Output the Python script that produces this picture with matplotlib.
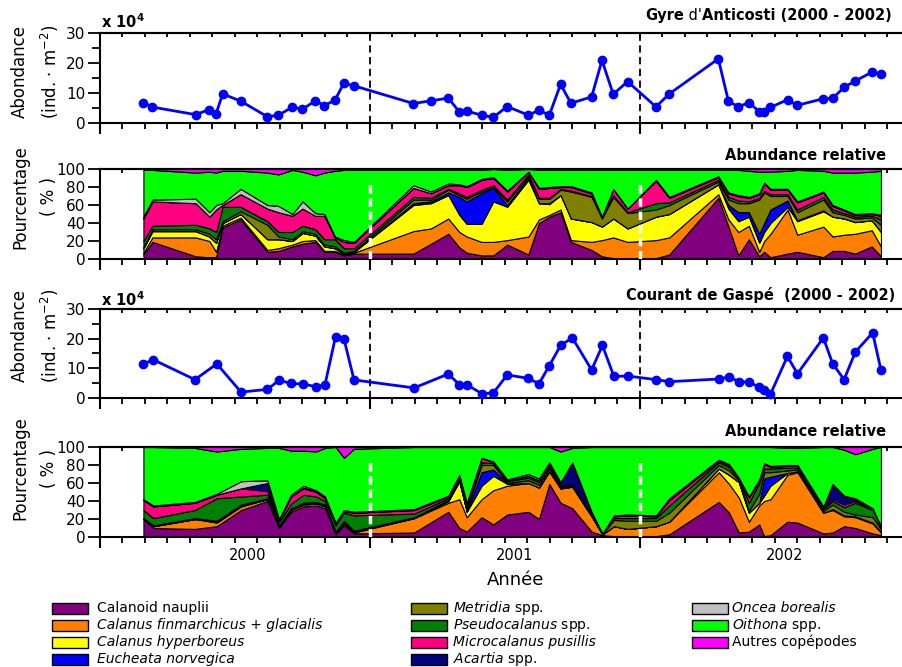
import numpy as np
import matplotlib
matplotlib.use("Agg")
import matplotlib.pyplot as plt
from matplotlib.patches import Rectangle
from matplotlib.ticker import NullFormatter, MultipleLocator

# sampling dates, in months since 1 Jan 2000
ant_months = [1.93, 2.33, 4.25, 4.86, 5.16, 5.45, 6.25, 7.44, 7.93, 8.55, 9.0, 9.57, 9.97, 10.44,
              10.84, 11.29, 13.93, 14.71, 15.48, 15.97, 16.3, 16.96, 17.48, 18.1, 19.04, 19.51,
              19.97, 20.47, 20.93, 21.85, 22.31, 22.81, 23.45, 24.71, 25.3, 27.48, 27.93, 28.37,
              28.84, 29.3, 29.52, 29.8, 30.56, 30.99, 32.15, 32.56, 33.07, 33.56, 34.3, 34.71]
# abundance, x 10^4 ind. m-2
ant_abund = [6.8, 5.3, 2.8, 4.5, 3.1, 9.7, 7.3, 2.1, 2.6, 5.3, 4.6, 7.4, 5.8, 7.6, 13.3, 12.4,
             6.5, 7.4, 8.3, 3.7, 4.0, 2.6, 1.9, 5.5, 2.6, 4.3, 2.6, 12.9, 6.6, 8.7, 20.9, 9.6,
             13.8, 5.4, 9.7, 21.4, 7.3, 5.4, 6.8, 3.8, 3.6, 5.2, 7.8, 5.9, 8.1, 8.2, 11.9, 14.0,
             16.9, 16.4]

gas_months = [1.93, 2.37, 4.22, 5.19, 6.27, 7.44, 7.96, 8.49, 9.04, 9.6, 10.0, 10.47, 10.84,
              11.29, 13.96, 15.48, 15.97, 16.3, 16.96, 17.48, 18.1, 19.04, 19.51, 19.97, 20.47,
              20.99, 21.85, 22.33, 22.84, 23.45, 24.71, 25.3, 27.5, 27.96, 28.39, 28.84, 29.3,
              29.52, 29.8, 30.55, 31.0, 32.15, 32.56, 33.07, 33.57, 34.34, 34.71]
gas_abund = [11.5, 12.9, 6.2, 11.5, 2.0, 2.9, 6.0, 4.9, 4.7, 3.8, 4.5, 20.7, 20.0, 6.1, 3.4, 8.1,
             4.5, 4.5, 1.5, 1.7, 7.8, 6.6, 4.8, 10.9, 17.7, 20.3, 9.5, 17.7, 7.3, 7.4, 6.2, 5.5,
             6.4, 7.1, 5.5, 5.3, 3.7, 2.6, 1.3, 14.0, 8.2, 20.3, 11.6, 6.2, 15.5, 22.0, 9.4]

# relative abundance (%) - Gyre d'Anticosti
ant_nauplii = [5, 19, 3, 2, 2, 35, 44, 8, 9, 14, 17, 19, 8, 8, 4, 6, 6, 17, 28, 13, 7, 4, 4, 16, 5,
               40, 47, 52, 19, 10, 3, 1, 1, 1, 5, 68, 36, 4, 22, 3, 8, 2, 6, 8, 2, 9, 9, 6, 14, 3]
ant_finmarchicus = [2, 5, 21, 18, 6, 2, 2, 2, 3, 2, 3, 2, 1, 1, 1, 1, 25, 17, 17, 17, 18, 15, 15, 5,
                    20, 4, 2, 3, 2, 9, 18, 23, 18, 20, 19, 4, 8, 26, 15, 5, 12, 26, 49, 19, 34, 16,
                    18, 22, 18, 11]
ant_hyperboreus = [5, 7, 7, 5, 10, 3, 4, 12, 10, 4, 9, 5, 5, 3, 1, 1, 29, 28, 26, 19, 14, 20, 45, 37,
                   63, 18, 12, 16, 24, 22, 15, 21, 15, 26, 26, 11, 12, 12, 10, 10, 10, 12, 3, 15, 17,
                   22, 18, 13, 11, 16]
ant_eucheata = [0, 0, 0, 0, 0, 0, 0, 0, 0, 0, 0, 0, 0, 0, 0, 0, 2, 2, 3, 20, 25, 34, 15, 2, 2, 0, 1,
                0, 0, 0, 0, 0, 0, 0, 0, 0, 4, 10, 5, 10, 10, 15, 7, 1, 1, 0, 0, 0, 0, 0]
ant_metridia = [1, 2, 2, 3, 4, 2, 3, 16, 3, 2, 2, 2, 2, 2, 1, 1, 4, 2, 3, 2, 3, 2, 1, 4, 2, 5, 5, 6,
                30, 28, 9, 24, 17, 8, 10, 3, 6, 10, 10, 38, 34, 15, 5, 9, 12, 5, 4, 4, 3, 8]
ant_pseudocalanus = [7, 4, 5, 6, 8, 16, 5, 4, 5, 8, 6, 5, 6, 8, 5, 3, 3, 2, 1, 2, 2, 2, 2, 2, 2, 1,
                     1, 1, 1, 1, 1, 2, 1, 7, 3, 2, 3, 3, 2, 2, 2, 2, 2, 3, 3, 3, 2, 2, 2, 6]
ant_microcalanus = [25, 27, 24, 13, 25, 2, 14, 14, 22, 18, 19, 15, 26, 2, 7, 6, 10, 5, 4, 9, 11, 11,
                    8, 9, 3, 10, 11, 2, 4, 3, 1, 7, 4, 25, 5, 3, 4, 5, 4, 4, 8, 5, 5, 8, 5, 4, 3, 2,
                    2, 4]
ant_acartia = [0] * 50
ant_oncea = [2, 2, 5, 5, 5, 2, 6, 4, 7, 2, 8, 3, 2, 1, 2, 1, 3, 2, 2, 1, 1, 1, 1, 1, 0, 1, 1, 1, 1,
             1, 0, 0, 0, 1, 1, 1, 1, 1, 1, 1, 1, 1, 1, 1, 1, 1, 1, 1, 1, 1]
ant_oithona = [52, 33, 29, 45, 36, 36, 20, 36, 35, 49, 33, 42, 46, 73, 78, 80, 17, 24, 15, 16, 18,
               10, 9, 23, 3, 20, 19, 18, 18, 25, 52, 21, 43, 11, 30, 7, 25, 28, 29, 24, 12, 19, 20,
               35, 23, 36, 41, 46, 46, 49]
ant_autres = [1, 1, 4, 3, 4, 2, 2, 4, 6, 1, 3, 7, 4, 2, 1, 1, 1, 1, 1, 1, 1, 1, 0, 1, 0, 1, 1, 1, 1,
              1, 1, 1, 1, 1, 1, 1, 1, 1, 2, 3, 3, 3, 2, 1, 2, 4, 4, 4, 3, 2]

# relative abundance (%) - Courant de Gaspe
gas_nauplii = [20, 10, 9, 12, 30, 40, 10, 28, 34, 35, 32, 3, 13, 4, 5, 28, 10, 6, 22, 14, 25, 28,
               20, 59, 38, 32, 6, 2, 1, 1, 1, 3, 39, 27, 5, 6, 14, 1, 2, 17, 16, 4, 5, 12, 10, 4, 2]
gas_finmarchicus = [0, 2, 11, 4, 4, 2, 1, 2, 2, 2, 2, 1, 2, 1, 16, 10, 32, 16, 20, 38, 32, 32, 35,
                    14, 16, 24, 17, 1, 11, 8, 11, 14, 33, 32, 39, 11, 21, 39, 40, 52, 56, 23, 25,
                    11, 12, 11, 3]
gas_hyperboreus = [0, 0, 0, 1, 1, 0, 1, 1, 1, 1, 1, 1, 1, 1, 0, 2, 20, 6, 15, 16, 2, 0, 0, 0, 0, 0,
                   0, 0, 0, 0, 0, 0, 4, 10, 17, 10, 3, 6, 15, 2, 1, 0, 1, 1, 1, 1, 1]
gas_eucheata = [0, 0, 0, 0, 0, 0, 0, 0, 0, 0, 0, 0, 0, 0, 0, 0, 0, 0, 15, 7, 0, 0, 0, 0, 0, 0, 0, 0,
                0, 0, 0, 0, 0, 0, 0, 0, 0, 19, 10, 0, 0, 0, 0, 0, 0, 0, 0]
gas_metridia = [1, 1, 1, 1, 1, 1, 1, 1, 1, 1, 1, 1, 2, 1, 1, 1, 2, 3, 8, 5, 1, 3, 3, 3, 1, 1, 1, 0,
                7, 9, 6, 10, 4, 5, 2, 2, 10, 7, 5, 3, 2, 2, 5, 4, 2, 6, 3]
gas_pseudocalanus = [9, 8, 9, 25, 9, 4, 4, 5, 9, 6, 4, 7, 9, 17, 4, 2, 2, 3, 3, 2, 2, 3, 3, 3, 1, 1,
                     1, 1, 2, 3, 3, 8, 3, 4, 1, 9, 12, 4, 4, 3, 2, 2, 4, 5, 13, 8, 2]
gas_microcalanus = [11, 13, 8, 4, 9, 4, 2, 8, 7, 5, 3, 2, 2, 3, 4, 2, 2, 4, 5, 1, 1, 2, 2, 3, 1, 1,
                    0, 0, 2, 3, 2, 6, 2, 2, 1, 6, 3, 5, 2, 2, 2, 2, 2, 3, 2, 1, 1]
gas_acartia = [0, 0, 0, 0, 0, 9, 0, 0, 1, 1, 1, 0, 0, 0, 0, 0, 0, 0, 0, 0, 0, 0, 0, 0, 3, 23, 2, 0,
               0, 0, 0, 0, 0, 0, 0, 0, 0, 0, 0, 0, 0, 0, 16, 9, 2, 0, 0]
gas_oncea = [1, 1, 1, 1, 8, 3, 1, 2, 2, 1, 1, 1, 1, 1, 1, 1, 1, 0, 0, 1, 1, 2, 2, 1, 1, 1, 1, 0, 1,
             1, 1, 2, 1, 1, 1, 1, 1, 1, 1, 1, 1, 1, 1, 1, 1, 1, 0]
gas_oithona = [58, 65, 60, 47, 36, 36, 79, 49, 39, 43, 54, 84, 58, 70, 69, 54, 31, 62, 12, 16, 36,
               30, 35, 17, 34, 16, 72, 96, 76, 75, 76, 57, 14, 19, 34, 55, 36, 18, 21, 19, 19, 66,
               41, 51, 49, 66, 88]
gas_autres = [0, 0, 1, 5, 2, 1, 1, 4, 4, 5, 1, 0, 12, 2, 0, 0, 0, 0, 0, 0, 0, 0, 0, 0, 5, 1, 0, 0,
              0, 0, 0, 0, 0, 0, 0, 0, 0, 0, 0, 1, 1, 0, 0, 3, 8, 2, 0]

taxa = ["Calanoid nauplii", "Calanus finmarchicus + glacialis", "Calanus hyperboreus",
        "Eucheata norvegica", r"$\mathit{Metridia}$ spp.", r"$\mathit{Pseudocalanus}$ spp.",
        "Microcalanus pusillis", r"$\mathit{Acartia}$ spp.", "Oncea borealis",
        r"$\mathit{Oithona}$ spp.", "Autres copépodes"]
taxa_italic = [False, True, True, True, False, False, True, False, True, False, False]
colors = ["#800080", "#ff8000", "#ffff00", "#0000ff", "#808000", "#008000",
          "#ff0080", "#000080", "#c0c0c0", "#00ff00", "#ff00ff"]

W, H = 903, 667
fig = plt.figure(figsize=(W / 100, H / 100), dpi=100)


def fx(x):
    return x / W


def fy(y):
    return 1 - y / H


def make_axes(top, bottom):
    return fig.add_axes([fx(100), fy(bottom), 810 / W, (bottom - top) / H])


def style(ax, ymax, ystep, yminor=None):
    ax.set_xlim(0, 36)
    ax.set_ylim(0, ymax)
    ax.spines["right"].set_visible(False)
    for s in ["left", "top", "bottom"]:
        ax.spines[s].set_linewidth(1.5)
    ax.set_xticks(np.arange(0, 37, 12))
    ax.set_xticks(np.arange(0, 37, 1), minor=True)
    ax.xaxis.set_major_formatter(NullFormatter())
    ax.tick_params(axis="x", which="major", direction="out", length=8, width=1.5)
    ax.tick_params(axis="x", which="minor", direction="out", length=4, width=1.3)
    ax.set_yticks(np.arange(0, ymax + 1, ystep))
    if yminor:
        ax.yaxis.set_minor_locator(MultipleLocator(yminor))
    ax.tick_params(axis="y", which="major", direction="out", length=9, width=1.3,
                   labelsize=11, pad=1.5)
    ax.tick_params(axis="y", which="minor", direction="out", length=6, width=1.3)
    sec = ax.secondary_xaxis("top")
    sec.set_xticks(np.arange(0, 37, 1))
    sec.xaxis.set_major_formatter(NullFormatter())
    sec.tick_params(direction="in", length=3, width=1.3)
    sec.spines["top"].set_linewidth(1.5)


def abundance_panel(top, bottom, months, values):
    ax = make_axes(top, bottom)
    style(ax, 30, 10, 5)
    for m in (12, 24):
        ax.axvline(m, color="black", lw=1.3, ls=(0, (4, 2.5)), zorder=1)
    ax.plot(months, values, color="#0000ff", lw=2, marker="o", ms=6, zorder=3, clip_on=False)
    return ax


def relative_panel(top, bottom, months, shares):
    ax = make_axes(top, bottom)
    style(ax, 100, 20)
    ax.stackplot(months, *shares, colors=colors, edgecolor="black", linewidth=0.8)
    for m in (12, 24):
        ax.plot([m, m], [0, 86], color="white", lw=2.5, ls=(0, (2.4, 1.4)), zorder=4)
    return ax


ax1 = abundance_panel(33, 123, ant_months, ant_abund)
ax2 = relative_panel(169, 259, ant_months,
                     [ant_nauplii, ant_finmarchicus, ant_hyperboreus, ant_eucheata, ant_metridia,
                      ant_pseudocalanus, ant_microcalanus, ant_acartia, ant_oncea, ant_oithona,
                      ant_autres])
ax3 = abundance_panel(309, 398, gas_months, gas_abund)
ax4 = relative_panel(447, 537, gas_months,
                     [gas_nauplii, gas_finmarchicus, gas_hyperboreus, gas_eucheata, gas_metridia,
                      gas_pseudocalanus, gas_microcalanus, gas_acartia, gas_oncea, gas_oithona,
                      gas_autres])

# titles
renderer = fig.canvas.get_renderer()
base = fy(20)
t3 = fig.text(fx(892), base, "Anticosti (2000 - 2002)", ha="right", va="baseline",
              fontsize=10.5, fontweight="bold")
bb = t3.get_window_extent(renderer)
t2 = fig.text(bb.x0 / fig.bbox.width, base, " d'", ha="right", va="baseline", fontsize=10.5)
bb = t2.get_window_extent(renderer)
fig.text(bb.x0 / fig.bbox.width, base, "Gyre", ha="right", va="baseline",
         fontsize=10.5, fontweight="bold")

fig.text(fx(895), fy(295), "Courant de Gaspé  (2000 - 2002)", ha="right", va="center",
         fontsize=10.5, fontweight="bold")
for y in (156, 432):
    fig.text(fx(886), fy(y), "Abundance relative", ha="right", va="center",
             fontsize=10.5, fontweight="bold")
for y in (22, 300):
    fig.text(fx(101), fy(y), r"x 10$^\mathbf{4}$", ha="left", va="center",
             fontsize=10.5, fontweight="bold")

# axis labels
for y in (72, 336):
    fig.text(fx(20), fy(y), "Abondance", rotation=90, ha="center", va="center", fontsize=12)
    fig.text(fx(50), fy(y), r"(ind. · m$^{-2}$)", rotation=90, ha="center", va="center",
             fontsize=12)
for y in (197, 468):
    fig.text(fx(20), fy(y), "Pourcentage", rotation=90, ha="center", va="center", fontsize=12)
    fig.text(fx(49), fy(y), "( % )", rotation=90, ha="center", va="center", fontsize=12)

for x, yr in zip((248, 515, 785), ("2000", "2001", "2002")):
    fig.text(fx(x), fy(556), yr, ha="center", va="center", fontsize=10.5)
fig.text(fx(516), fy(580), "Année", ha="center", va="center", fontsize=13)

# legend
col_patch_x = [52, 411, 692]
col_text_x = [97, 453, 732]
row_y = [608, 625, 642, 659]
for i, (label, italic, c) in enumerate(zip(taxa, taxa_italic, colors)):
    col, row = divmod(i, 4)
    px, ty = col_patch_x[col], row_y[row]
    fig.add_artist(Rectangle((fx(px), fy(ty + 5.5)), 36 / W, 11 / H, transform=fig.transFigure,
                             facecolor=c, edgecolor="black", lw=1))
    fig.text(fx(col_text_x[col]), fy(ty), label, ha="left", va="center", fontsize=10,
             fontstyle="italic" if italic else "normal")

fig.savefig("out.png", dpi=100)
